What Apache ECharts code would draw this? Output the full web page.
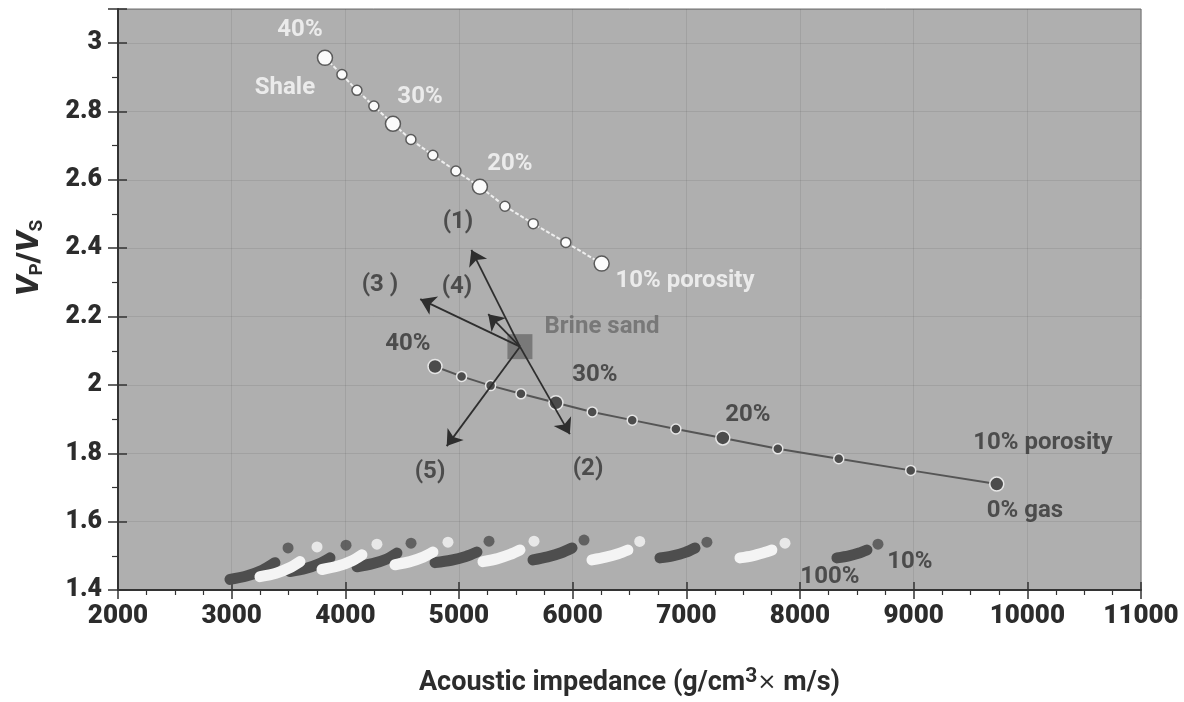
<!DOCTYPE html>
<html>
<head>
<meta charset="utf-8">
<script src="https://cdn.jsdelivr.net/npm/echarts@6/dist/echarts.min.js"></script>
<style>
  html, body { margin: 0; padding: 0; background: #ffffff; }
  #chart { width: 1184px; height: 702px; }
</style>
</head>
<body>
<div id="chart"></div>
<script>
// Porosity steps along the two trend curves (every 4th point is a labelled 10% step)
const porosity = [40, 37.5, 35, 32.5, 30, 27.5, 25, 22.5, 20, 17.5, 15, 12.5, 10];

// Shale trend: acoustic impedance and Vp/Vs
const shaleImpedance = [3821, 3970, 4102, 4251, 4419, 4577, 4770, 4973, 5184, 5404, 5653, 5940, 6255];
const shaleVpVs = [2.957, 2.908, 2.862, 2.816, 2.764, 2.718, 2.672, 2.626, 2.580, 2.523, 2.472, 2.417, 2.355];

// Brine-sand trend (0% gas)
const brineImpedance = [4789, 5023, 5278, 5545, 5853, 6172, 6524, 6908, 7321, 7805, 8341, 8974, 9731];
const brineVpVs = [2.054, 2.025, 1.998, 1.974, 1.948, 1.921, 1.897, 1.871, 1.845, 1.813, 1.784, 1.750, 1.710];

// Reference brine sand and the five perturbation directions
const brineSand = [5536, 2.112];
const arrowEnds = [[5109, 2.395], [5975, 1.856], [4659, 2.251], [5257, 2.207], [4892, 1.821]];
const arrowNames = ['(1)', '(2)', '(3 )', '(4)', '(5)'];
const arrowNameAt = [[4991, 2.477], [6135, 1.753], [4305, 2.293], [4982, 2.287], [4745, 1.744]];

// Gas-sand curves (100% gas at the lower left end), alternating shades
const gasDarkCurves = [
  [[2985, 1.431], [3130, 1.441], [3270, 1.458], [3381, 1.480]],
  [[3513, 1.454], [3650, 1.463], [3770, 1.477], [3865, 1.494]],
  [[4103, 1.468], [4240, 1.477], [4360, 1.490], [4454, 1.508]],
  [[4789, 1.480], [4930, 1.487], [5060, 1.498], [5158, 1.511]],
  [[5651, 1.488], [5780, 1.497], [5900, 1.509], [5994, 1.523]],
  [[6768, 1.494], [6880, 1.500], [6990, 1.510], [7076, 1.523]],
  [[8325, 1.494], [8430, 1.500], [8520, 1.508], [8589, 1.517]]
];
const gasLightCurves = [
  [[3249, 1.439], [3390, 1.449], [3510, 1.465], [3601, 1.483]],
  [[3795, 1.460], [3935, 1.470], [4055, 1.485], [4146, 1.503]],
  [[4437, 1.474], [4570, 1.483], [4685, 1.496], [4771, 1.511]],
  [[5211, 1.483], [5340, 1.492], [5450, 1.504], [5536, 1.517]],
  [[6170, 1.488], [6290, 1.496], [6400, 1.506], [6486, 1.517]],
  [[7472, 1.494], [7580, 1.500], [7680, 1.509], [7753, 1.517]]
];
// 10% gas saturation points
const gasDarkTen = [[3496, 1.523], [4006, 1.531], [4578, 1.537], [5264, 1.543], [6100, 1.546], [7181, 1.540], [8686, 1.534]];
const gasLightTen = [[3751, 1.526], [4278, 1.534], [4903, 1.540], [5660, 1.543], [6590, 1.542], [7868, 1.537]];

// Text annotations
const shaleNotes = [['40%', 3601, 3.040], ['Shale', 3469, 2.868], ['30%', 4657, 2.842], ['20%', 5448, 2.646], ['10% porosity', 6988, 2.304]];
const sandNotes = [['40%', 4551, 2.121], ['30%', 6196, 2.029], ['20%', 7542, 1.911], ['10% porosity', 10137, 1.830], ['0% gas', 9979, 1.632], ['100%', 8263, 1.439], ['10%', 8967, 1.483]];
const brineSandNote = [['Brine sand', 6258, 2.169]];

const FONT = "Roboto, 'Liberation Sans', Arial, sans-serif";
const INK = '#2c2c2c';

function joinCurves(groups) {
  const out = [];
  groups.forEach((g, i) => {
    if (i > 0) out.push('-');
    g.forEach(p => out.push(p));
  });
  return out;
}
function zip(xs, ys) { return xs.map((x, i) => [x, ys[i]]); }
function noteSeries(notes, color, size) {
  return {
    type: 'scatter', silent: true, z: 20,
    symbol: 'circle', symbolSize: 1,
    itemStyle: { color: 'rgba(0,0,0,0)' },
    label: {
      show: true, position: 'inside', formatter: '{b}',
      color: color, fontFamily: FONT, fontWeight: 'bold', fontSize: size
    },
    data: notes.map(n => ({ name: n[0], value: [n[1], n[2]] }))
  };
}

const chart = echarts.init(document.getElementById('chart'), null, { renderer: 'canvas' });

const option = {
  animation: false,
  backgroundColor: '#ffffff',
  grid: {
    left: 118, right: 43, top: 9, bottom: 101,
    show: true, backgroundColor: '#afafaf', borderColor: '#707070', borderWidth: 1
  },
  xAxis: [
    {
      type: 'value', min: 2000, max: 11000, interval: 1000,
      axisLine: { show: true, onZero: false, lineStyle: { color: '#333', width: 2 } },
      axisTick: { show: true, length: 9, lineStyle: { color: '#333', width: 1.5 } },
      minorTick: { show: true, splitNumber: 4, length: 5, lineStyle: { color: '#333', width: 1.2 } },
      axisLabel: {
        color: INK, fontFamily: FONT, fontWeight: 900, fontSize: 26, margin: 13,
        formatter: v => String(v)
      },
      splitLine: { show: true, lineStyle: { color: 'rgba(70,70,70,0.13)', width: 1 } },
      name: 'Acoustic impedance (g/cm{sup|3}{x|\u00d7} m/s)',
      nameLocation: 'middle', nameGap: 76,
      nameTextStyle: {
        color: INK, fontFamily: FONT, fontWeight: 'bold', fontSize: 27,
        rich: {
          sup: { fontFamily: FONT, fontWeight: 'bold', fontSize: 21, color: INK, padding: [0, 0, 14, 0] },
          x: { fontFamily: "'DejaVu Sans', sans-serif", fontWeight: 'normal', fontSize: 23, color: INK }
        }
      }
    },
    {
      type: 'value', min: 2000, max: 11000, interval: 1000, position: 'bottom',
      axisLine: { show: false },
      axisTick: { show: true, inside: true, length: 8, lineStyle: { color: '#333', width: 1.5 } },
      axisLabel: { show: false }, splitLine: { show: false }
    }
  ],
  yAxis: [
    {
      type: 'value', min: 1.4, max: 3.1, interval: 0.2,
      axisLine: { show: true, onZero: false, lineStyle: { color: '#333', width: 2 } },
      axisTick: { show: true, length: 10, lineStyle: { color: '#333', width: 1.5 } },
      minorTick: { show: true, splitNumber: 2, length: 6, lineStyle: { color: '#333', width: 1.2 } },
      axisLabel: { color: INK, fontFamily: FONT, fontWeight: 900, fontSize: 25, margin: 16, showMaxLabel: false },
      splitLine: { show: true, lineStyle: { color: 'rgba(70,70,70,0.13)', width: 1 } }
    },
    {
      type: 'value', min: 1.4, max: 3.1, interval: 0.2, position: 'left',
      axisLine: { show: false },
      axisTick: { show: true, inside: true, length: 9, lineStyle: { color: '#333', width: 1.5 } },
      axisLabel: { show: false }, splitLine: { show: false }
    }
  ],
  graphic: [
    {
      type: 'text', x: 30, y: 258, rotation: Math.PI / 2, silent: true,
      style: {
        text: '{v|V}{s|P}{n|/}{v|V}{s|S}',
        align: 'center', verticalAlign: 'middle',
        rich: {
          v: { fontFamily: FONT, fontStyle: 'italic', fontWeight: 900, fontSize: 32, fill: INK },
          s: { fontFamily: FONT, fontWeight: 'bold', fontSize: 19, fill: INK, padding: [14, 0, 0, 0] },
          n: { fontFamily: FONT, fontWeight: 900, fontSize: 32, fill: INK }
        }
      }
    }
  ],
  series: [
    {
      name: 'Gas sand A', type: 'line', silent: true, z: 3,
      data: joinCurves(gasDarkCurves), connectNulls: false, smooth: 0.3,
      symbol: 'none',
      lineStyle: { color: '#4e4e4e', width: 11, cap: 'round', join: 'round' }
    },
    {
      name: 'Gas sand B', type: 'line', silent: true, z: 4,
      data: joinCurves(gasLightCurves), connectNulls: false, smooth: 0.3,
      symbol: 'none',
      lineStyle: { color: '#f4f4f4', width: 11, cap: 'round', join: 'round' }
    },
    {
      name: 'Gas sand A 10%', type: 'scatter', silent: true, z: 5,
      data: gasDarkTen, symbolSize: 11, itemStyle: { color: '#4e4e4e' }
    },
    {
      name: 'Gas sand B 10%', type: 'scatter', silent: true, z: 5,
      data: gasLightTen, symbolSize: 11, itemStyle: { color: '#f6f6f6' }
    },
    {
      name: 'Shale', type: 'line', silent: true, z: 6,
      data: zip(shaleImpedance, shaleVpVs),
      symbol: 'circle',
      symbolSize: (v, p) => (porosity[p.dataIndex] % 10 === 0 ? 15 : 10),
      showAllSymbol: true,
      lineStyle: { color: '#eeeeee', width: 2, type: [4, 2] },
      itemStyle: { color: '#fbfbfb', borderColor: '#5a5a5a', borderWidth: 1.5 }
    },
    {
      name: 'Brine sand', type: 'line', silent: true, z: 6,
      data: zip(brineImpedance, brineVpVs),
      symbol: 'circle',
      symbolSize: (v, p) => (porosity[p.dataIndex] % 10 === 0 ? 14 : 10),
      showAllSymbol: true,
      lineStyle: { color: '#555555', width: 2 },
      itemStyle: { color: '#4c4c4c', borderColor: '#e6e6e6', borderWidth: 1.5 }
    },
    {
      name: 'Brine sand point', type: 'scatter', silent: true, z: 7,
      data: [brineSand], symbol: 'rect', symbolSize: 25,
      itemStyle: { color: '#6c6c6c' }
    },
    {
      name: 'Directions', type: 'lines', coordinateSystem: 'cartesian2d', silent: true, z: 8,
      symbol: ['none', 'arrow'], symbolSize: 15,
      lineStyle: { color: '#2e2e2e', width: 1.8, opacity: 1 },
      data: arrowEnds.map(e => ({ coords: [brineSand, e] }))
    },
    noteSeries(shaleNotes, '#fafafa', 24),
    noteSeries(sandNotes, '#333333', 24),
    noteSeries(arrowNames.map((t, i) => [t, arrowNameAt[i][0], arrowNameAt[i][1]]), '#333333', 24),
    noteSeries(brineSandNote, '#6a6a6a', 24)
  ]
};

chart.setOption(option);
</script>
</body>
</html>
